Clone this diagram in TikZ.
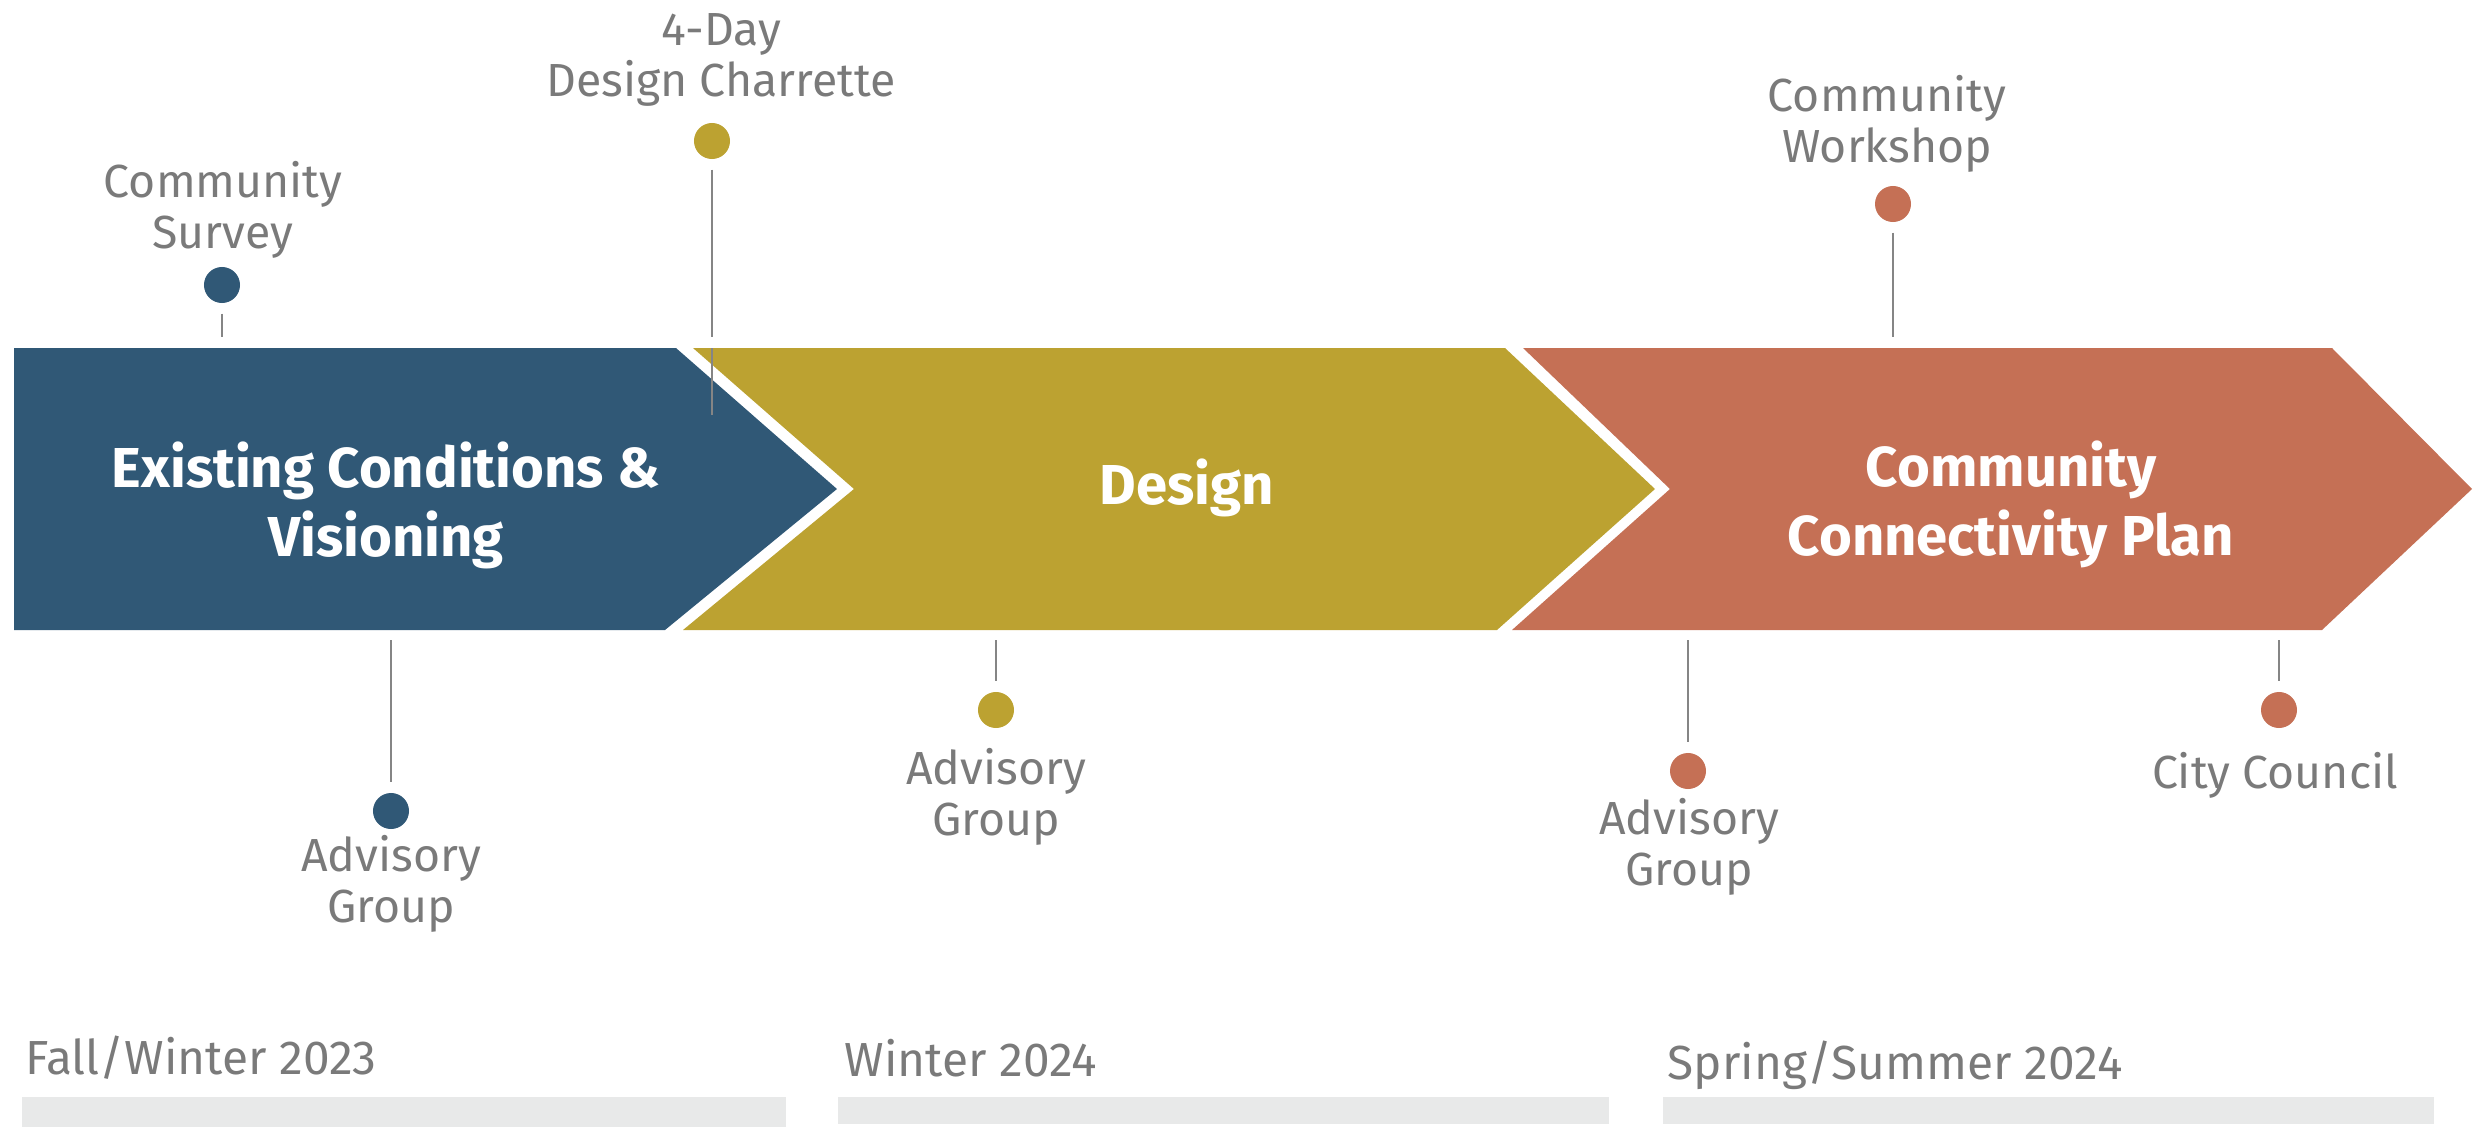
\documentclass[tikz,border=0pt]{standalone}
\usepackage{fontspec}
\setmainfont{Fira Sans}
\definecolor{cblue}{HTML}{305876}
\definecolor{cyel}{HTML}{BCA231}
\definecolor{corg}{HTML}{C57055}
\definecolor{tgray}{HTML}{7A7A7A}
\definecolor{sgray}{HTML}{858585}
\definecolor{bargray}{HTML}{E8E9E9}
\begin{document}
\begin{tikzpicture}[x=0.01cm,y=-0.01cm,
  lbl/.style={inner sep=0pt, text=tgray, align=center, anchor=base, font=\fontsize{13.2}{14.4}\selectfont},
  ttl/.style={inner sep=0pt, text=white, align=center, anchor=base, font=\bfseries\fontsize{16}{19.6}\selectfont},
  per/.style={inner sep=0pt, text=tgray, anchor=base west, font=\fontsize{13.6}{16}\selectfont},
  dot/.style={circle, inner sep=0pt, minimum size=0.36cm},
  stem/.style={draw=sgray, line width=0.6pt, shorten <=0.1cm},
  bar/.style={fill=bargray}]
\useasboundingbox (0,0) rectangle (2474,1133);
% phases
\fill[cblue] (14,348) -- (676,348) -- (837,489) -- (665,630) -- (14,630) -- cycle;
\fill[cyel] (693,348) -- (1505,348) -- (1655,489) -- (1497,630) -- (683,630) -- (854,489) -- cycle;
\fill[corg] (1523,348) -- (2332,348) -- (2472,489) -- (2322,630) -- (1512,630) -- (1670,489) -- cycle;
\node[ttl] (t1) at (386,556) {Existing Conditions \&\\Visioning};
\node[ttl] (t2) at (1187,504) {Design};
\node[ttl] (t3) at (2011,555) {Community\\Connectivity Plan};
% top events
\node[lbl] (l1) at (223,248) {Community\\Survey};
\node[dot, fill=cblue] (d1) at (222,285) {};
\coordinate (e1) at (222,337);
\draw[stem] (d1.south) -- (e1);
\node[lbl] (l2) at (721,96) {4-Day\\Design Charrette};
\node[dot, fill=cyel] (d2) at (712,141) {};
\coordinate (e2) at (712,337);
\draw[stem] (d2.south) -- (e2);
\coordinate (f2a) at (712,348);
\coordinate (f2b) at (712,415);
\draw[draw=sgray, line width=0.6pt] (f2a) -- (f2b);
\node[lbl] (l3) at (1887,162) {Community\\Workshop};
\node[dot, fill=corg] (d3) at (1893,204) {};
\coordinate (e3) at (1893,337);
\draw[stem] (d3.south) -- (e3);
% bottom events
\coordinate (b4) at (391,630);
\node[dot, fill=cblue] (d4) at (391,811) {};
\draw[stem, shorten >=0.1cm] (b4) -- (d4.north);
\node[lbl] (l4) at (391,922) {Advisory\\Group};
\coordinate (b5) at (996,630);
\node[dot, fill=cyel] (d5) at (996,710) {};
\draw[stem, shorten >=0.1cm] (b5) -- (d5.north);
\node[lbl] (l5) at (996,835) {Advisory\\Group};
\coordinate (b6) at (1688,630);
\node[dot, fill=corg] (d6) at (1688,771) {};
\draw[stem, shorten >=0.1cm] (b6) -- (d6.north);
\node[lbl] (l6) at (1689,885) {Advisory\\Group};
\coordinate (b7) at (2279,630);
\node[dot, fill=corg] (d7) at (2279,710) {};
\draw[stem, shorten >=0.1cm] (b7) -- (d7.north);
\node[lbl] (l7) at (2275,788) {City Council};
% periods
\node[per] (p1) at (25,1074) {Fall/Winter 2023};
\node[per] (p2) at (844,1076) {Winter 2024};
\node[per] (p3) at (1667,1079) {Spring/Summer 2024};
\fill[bar] (22,1097) rectangle (786,1127);
\fill[bar] (838,1097) rectangle (1609,1124);
\fill[bar] (1663,1097) rectangle (2434,1124);
\end{tikzpicture}
\end{document}
